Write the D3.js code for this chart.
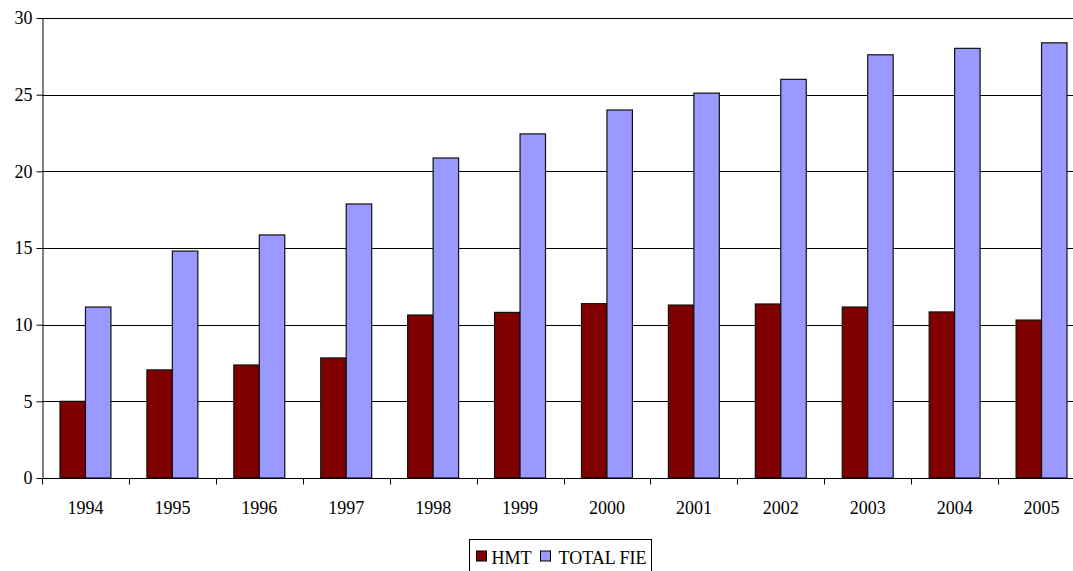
<!DOCTYPE html>
<html>
<head>
<meta charset="utf-8">
<script src="https://cdn.jsdelivr.net/npm/d3@7"></script>
<style>
  body { margin: 0; background: #fff; }
  svg text { font-family: "Liberation Serif", "Times New Roman", serif; }
</style>
</head>
<body>
<figure id="bar" style="margin:0"></figure>
<script>
// data
const years = ['1994', '1995', '1996', '1997', '1998', '1999', '2000', '2001', '2002', '2003', '2004', '2005'];
const hmt = [5.0, 7.05, 7.37, 7.83, 10.63, 10.8, 11.37, 11.28, 11.35, 11.15, 10.83, 10.3];
const totalFie = [11.15, 14.8, 15.85, 17.87, 20.87, 22.44, 24.0, 25.1, 26.0, 27.6, 28.02, 28.38];
const yTicks = [0, 5, 10, 15, 20, 25, 30];
const seriesNames = ['HMT', 'TOTAL FIE'];
const seriesColors = ['#800000', '#9999ff'];

const W = 1073, H = 571;
const FONT = '"Liberation Serif", "Times New Roman", serif';
const FS = '18px';
// plot area (the right side runs past the window edge, as in the original)
const marginLeft = 42, marginTop = 18, plotW = 1043, plotH = 460;

const svg = d3.select('figure#bar')
  .append('svg')
  .attr('width', W)
  .attr('height', H)
  .style('display', 'block')
  .style('overflow', 'hidden');

const g = svg.append('g')
  .attr('transform', 'translate(' + marginLeft + ',' + marginTop + ')');

const x = d3.scaleBand()
  .domain(years)
  .range([0, plotW]);

const y = d3.scaleLinear()
  .domain([0, 30])
  .range([plotH, 0]);

// gridlines
g.append('g')
  .selectAll('line')
  .data(yTicks.filter(d => d > 0))
  .enter()
  .append('line')
  .attr('x1', 0)
  .attr('x2', plotW)
  .attr('y1', d => Math.round(y(d)) + 0.5)
  .attr('y2', d => Math.round(y(d)) + 0.5)
  .attr('stroke', '#000')
  .attr('stroke-width', 1);

// bars
const barW = x.bandwidth() * 0.293;
const rows = years.map((yr, i) => ({ year: yr, values: [hmt[i], totalFie[i]] }));

const groups = g.selectAll('.yr')
  .data(rows)
  .enter()
  .append('g')
  .attr('class', 'yr')
  .attr('transform', d => 'translate(' + (x(d.year) + x.bandwidth() / 2 - barW) + ',0)');

groups.selectAll('rect')
  .data(d => d.values)
  .enter()
  .append('rect')
  .attr('x', (d, i) => i * barW)
  .attr('y', d => y(d))
  .attr('width', barW)
  .attr('height', d => plotH - y(d))
  .attr('fill', (d, i) => seriesColors[i])
  .attr('stroke', '#111')
  .attr('stroke-width', 1.2);

// y axis
const yAxis = g.append('g')
  .attr('transform', 'translate(0.5,0)')
  .call(d3.axisLeft(y).tickValues(yTicks).tickSize(6).tickSizeOuter(0).tickPadding(4));
yAxis.attr('font-family', FONT);
yAxis.selectAll('text')
  .attr('font-family', FONT)
  .style('font-size', FS)
  .attr('fill', '#000');
yAxis.selectAll('line, path').attr('stroke', '#000');

// x axis
const xAxis = g.append('g')
  .attr('transform', 'translate(0,' + (plotH + 0.5) + ')');
xAxis.append('line')
  .attr('x1', 0).attr('x2', plotW)
  .attr('stroke', '#000');
xAxis.selectAll('.tk')
  .data(years)
  .enter()
  .append('line')
  .attr('class', 'tk')
  .attr('x1', d => Math.round(x(d)) + 0.5)
  .attr('x2', d => Math.round(x(d)) + 0.5)
  .attr('y1', 0)
  .attr('y2', 6)
  .attr('stroke', '#000');
xAxis.selectAll('text')
  .data(years)
  .enter()
  .append('text')
  .attr('x', d => x(d) + x.bandwidth() / 2)
  .attr('y', 35)
  .attr('text-anchor', 'middle')
  .attr('font-family', FONT)
  .style('font-size', FS)
  .text(d => d);

// legend
const legend = svg.append('g')
  .attr('transform', 'translate(469.5,539.5)');
legend.append('rect')
  .attr('width', 182)
  .attr('height', 40)
  .attr('fill', '#fff')
  .attr('stroke', '#000');
const legendX = [7, 71];
const legendTextX = [22, 89];
seriesNames.forEach((name, i) => {
  legend.append('rect')
    .attr('x', legendX[i])
    .attr('y', 11.5)
    .attr('width', 10)
    .attr('height', 10)
    .attr('fill', seriesColors[i])
    .attr('stroke', '#000');
  legend.append('text')
    .attr('x', legendTextX[i])
    .attr('y', 24)
    .attr('font-family', FONT)
    .style('font-size', FS)
    .text(name);
});
</script>
</body>
</html>
